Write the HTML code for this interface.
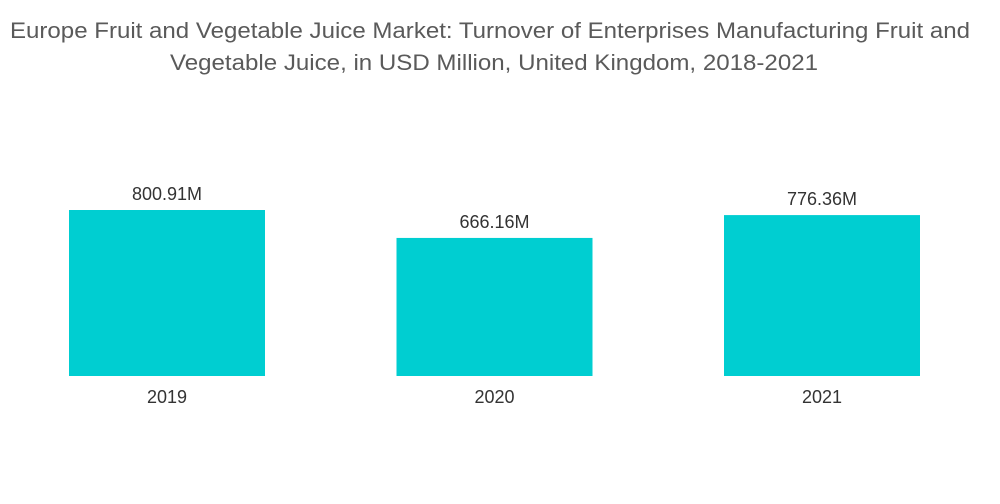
<!DOCTYPE html>
<html><head><meta charset="utf-8"><style>
body{margin:0;background:#fff;}
svg{display:block;font-family:"Liberation Sans",sans-serif;}
</style></head><body>
<svg id="chart" width="1000" height="504" viewBox="0 0 1000 504">
<g fill="#5a5a5a" font-size="22" text-anchor="middle">
<text x="490" y="38" textLength="960" lengthAdjust="spacingAndGlyphs">Europe Fruit and Vegetable Juice Market: Turnover of Enterprises Manufacturing Fruit and</text>
<text x="494" y="70" textLength="648" lengthAdjust="spacingAndGlyphs">Vegetable Juice, in USD Million, United Kingdom, 2018-2021</text>
</g>
<g id="bars"></g>
</svg>
<script>
const categories=["2019","2020","2021"];
const values=[800.91,666.16,776.36];
const valueLabels=["800.91M","666.16M","776.36M"];
const baseY=376, scale=166/800.91, x0=69, step=327.5, bw=196;
const y=v=>baseY-v*scale;
const xb=i=>x0+i*step;
const g=document.getElementById('bars');
const ns='http://www.w3.org/2000/svg';
categories.forEach((c,i)=>{
 const r=document.createElementNS(ns,'rect');
 
 
 r.setAttribute('x',xb(i));r.setAttribute('y',y(values[i]));
 r.setAttribute('width',bw);r.setAttribute('height',baseY-y(values[i]));
 r.setAttribute('fill','#00ced1');g.appendChild(r);
 const t=document.createElementNS(ns,'text');
 
 
 t.setAttribute('x',xb(i)+bw/2);t.setAttribute('y',y(values[i])-10);
 t.setAttribute('text-anchor','middle');t.setAttribute('font-size','18');t.setAttribute('fill','#333');
 t.textContent=valueLabels[i];g.appendChild(t);
 const l=document.createElementNS(ns,'text');
 
 
 l.setAttribute('x',xb(i)+bw/2);l.setAttribute('y',403);
 l.setAttribute('text-anchor','middle');l.setAttribute('font-size','18');l.setAttribute('fill','#333');
 l.textContent=c;g.appendChild(l);
});
</script>
</body></html>
